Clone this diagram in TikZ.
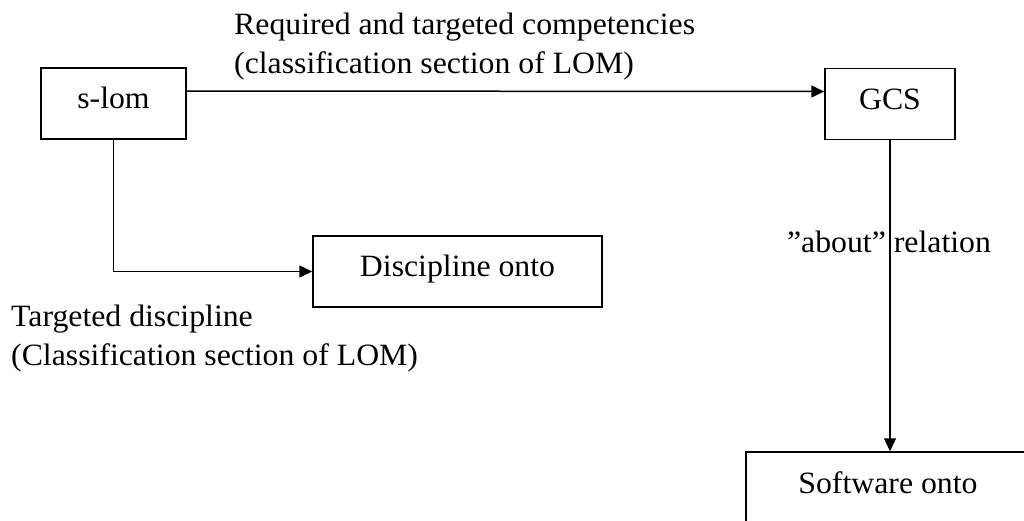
\documentclass[tikz,border=0pt]{standalone}
\usepackage{fontspec}
\setmainfont[FakeStretch=1.025]{Liberation Serif}
\usetikzlibrary{arrows.meta, positioning}
\tikzset{
    ontobox/.style={
        rectangle,
        draw,
        line width=1.5pt,
        inner sep=0pt,
        minimum width=#1,
        minimum height=71pt,
        text height=21pt,
        text depth=11pt,
        font=\fontsize{31}{39}\selectfont
    },
    rel/.style={
        ->,
        >={Triangle[length=13pt, width=12pt]},
        line width=1.5pt
    },
    rellabel/.style={
        align=left,
        inner sep=0pt,
        font=\fontsize{31}{39}\selectfont
    }
}
\begin{document}
\begin{tikzpicture}[x=1pt, y=-1pt]
    \useasboundingbox[fill=white] (0,0) rectangle (1024,520);
    \clip (0,0) rectangle (1024,520);

    \node[ontobox=145pt] (slom) at (113.5,103.5) {s-lom};
    \node[ontobox=130pt] (gcs) at (890,104) {GCS};
    \node[ontobox=289pt] (disc) at (457.5,271.5) {Discipline onto};
    \node[ontobox=284pt, minimum height=72pt] (soft) at (888,488) {Software onto};

    \node[rellabel, anchor=north west] (complabel) at (234,13) {Required and targeted competencies\\(classification section of LOM)};
    \node[rellabel, anchor=north west] (disclabel) at (11,305) {Targeted discipline\\(Classification section of LOM)};

    \draw[rel] ([yshift=12.5pt]slom.east) -- ([yshift=12.5pt]gcs.west);
    \draw[rel] (slom.south) |- (disc.west);
    \draw[rel] (gcs.south) -- node[rellabel, anchor=base, pos=0.36, xshift=-1pt] (aboutlabel) {”about” relation} (gcs.south |- soft.north);
\end{tikzpicture}
\end{document}
